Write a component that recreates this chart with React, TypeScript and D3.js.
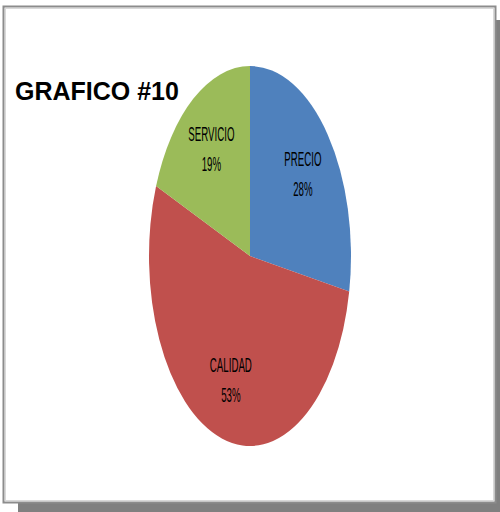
import { useEffect } from "react";
import * as d3 from "d3";

const categories = ["PRECIO", "CALIDAD", "SERVICIO"];
const values = [28, 53, 19];
const colours = ["#4F81BD", "#C0504D", "#9BBB59"];
const title = "GRAFICO #10";

const W = 500;
const H = 512;
const cx = 250;
const cy = 256;
const rx = 101;
const ry = 190;

type Slice = { name: string, value: number, colour: string };

function App() {
    useEffect(() => {
        document.body.style.margin = "0";
    }, []);

    const data: Slice[] = categories.map((name, i) => ({ name, value: values[i], colour: colours[i] }));
    const pie = d3.pie<Slice>()
        .sort(null)
        .value(d => d.value)
        .startAngle(0)
        .endAngle(2 * Math.PI);
    const arcs = pie(data);
    const r = 100;
    const arc = d3.arc<d3.PieArcDatum<Slice>>()
        .innerRadius(0)
        .outerRadius(r);
    // label ring, inside the slices
    const labelArc = d3.arc<d3.PieArcDatum<Slice>>()
        .innerRadius(r * 0.68)
        .outerRadius(r * 0.68);
    const total = d3.sum(values);

    return (
        <svg width={W} height={H} style={{ display: "block" }}>
            {/* shadow */}
            <rect x={18} y={20} width={482} height={492} fill="#808080" />
            {/* frame */}
            <rect x={3.5} y={6.5} width={492} height={496} fill="#ffffff" stroke="#8c8c8c" strokeWidth={2} />
            <rect x={5.5} y={8.5} width={488} height={492} fill="none" stroke="#d9d9d9" strokeWidth={1} />

            <g transform={`translate(${cx},${cy}) scale(${rx / r},${ry / r})`}>
                {arcs.map(a => (
                    <path key={a.data.name} d={arc(a) || ""} fill={a.data.colour} />
                ))}
            </g>

            {arcs.map(a => {
                const [lx, ly] = labelArc.centroid(a);
                const x = cx + lx * rx / r;
                const y = cy + ly * ry / r;
                return (
                    <g key={a.data.name} fontFamily="Liberation Sans, Arial, sans-serif" fontSize={10} fill="#000" textAnchor="middle">
                        <text transform={`translate(${x},${y - 8}) scale(0.97,2)`}>{a.data.name}</text>
                        <text transform={`translate(${x},${y + 22}) scale(0.97,2)`}>{Math.round(a.data.value / total * 100)}%</text>
                    </g>
                );
            })}

            <text x={15} y={100} fontFamily="Liberation Sans, Arial, sans-serif" fontWeight="bold" fontSize={25} fill="#000">{title}</text>
        </svg>
    );
}

export default App;
